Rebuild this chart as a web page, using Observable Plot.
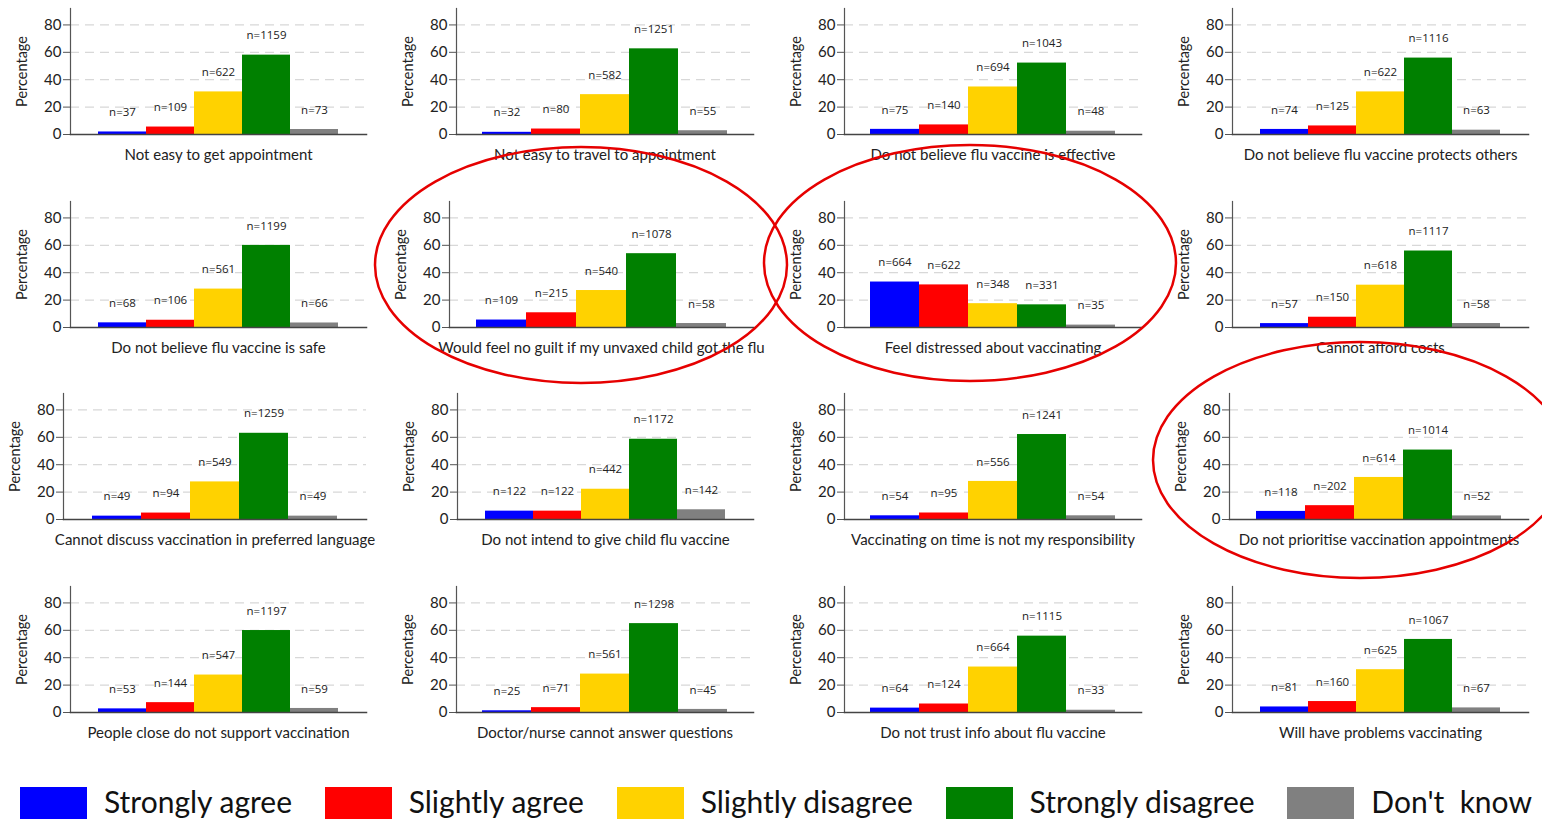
<!DOCTYPE html>
<html>
<head>
<meta charset="utf-8">
<script src="https://cdn.jsdelivr.net/npm/d3@7"></script>
<script src="https://cdn.jsdelivr.net/npm/@observablehq/plot@0.6"></script>
<style>
  html, body { margin: 0; padding: 0; background: #fff; }
  #page { position: relative; width: 1542px; height: 819px; overflow: hidden; background: #fff; }
  .panel { position: absolute; }
  .panel svg { overflow: visible; max-width: none !important; }
  #legend { position: absolute; left: 20px; top: 784px; width: 1512px; display: flex; justify-content: space-between; font-family: Lato, "Open Sans", sans-serif; font-size: 30px; color: #111; }
  #legend .item { display: flex; align-items: flex-start; }
  #legend .sw { width: 67px; height: 35px; margin-top: 3px; }
  #legend .lab { margin-left: 17px; white-space: pre; line-height: 34px; }
  #overlay { position: absolute; left: 0; top: 0; pointer-events: none; }
</style>
</head>
<body>
<div id="page"></div>
<script>
// ---- data ----
const categories = ["Strongly agree", "Slightly agree", "Slightly disagree", "Strongly disagree", "Don't  know"];
const colors = ["#0000ff", "#ff0000", "#ffd200", "#008000", "#808080"];
const yTicks = [0, 20, 40, 60, 80];
const titles = [
  "Not easy to get appointment",
  "Not easy to travel to appointment",
  "Do not believe flu vaccine is effective",
  "Do not believe flu vaccine protects others",
  "Do not believe flu vaccine is safe",
  "Would feel no guilt if my unvaxed child got the flu",
  "Feel distressed about vaccinating",
  "Cannot afford costs",
  "Cannot discuss vaccination in preferred language",
  "Do not intend to give child flu vaccine",
  "Vaccinating on time is not my responsibility",
  "Do not prioritise vaccination appointments",
  "People close do not support vaccination",
  "Doctor/nurse cannot answer questions",
  "Do not trust info about flu vaccine",
  "Will have problems vaccinating"
];
// counts (n) per panel, in category order
const counts = [
  [37, 109, 622, 1159, 73],
  [32, 80, 582, 1251, 55],
  [75, 140, 694, 1043, 48],
  [74, 125, 622, 1116, 63],
  [68, 106, 561, 1199, 66],
  [109, 215, 540, 1078, 58],
  [664, 622, 348, 331, 35],
  [57, 150, 618, 1117, 58],
  [49, 94, 549, 1259, 49],
  [122, 122, 442, 1172, 142],
  [54, 95, 556, 1241, 54],
  [118, 202, 614, 1014, 52],
  [53, 144, 547, 1197, 59],
  [25, 71, 561, 1298, 45],
  [64, 124, 664, 1115, 33],
  [81, 160, 625, 1067, 67]
];

// ---- layout (positions only) ----
const rowTop = [0, 193, 385, 578];
const colRight = [366, 753, 1141, 1528];
const axisX = [
  70, 456, 844, 1232,
  70, 449, 844, 1232,
  63, 457, 844, 1229,
  70, 456, 844, 1232
];
const ML = 70, MR = 20, MT = 8, MB = 58, H = 192;

const page = document.getElementById("page");
const fontMain = "Lato, 'Open Sans', sans-serif";

titles.forEach((title, p) => {
  const r = Math.floor(p / 4), c = p % 4;
  const total = d3.sum(counts[p]);
  const data = categories.map((cat, i) => ({cat, n: counts[p][i], pct: counts[p][i] / total * 100}));
  const W = colRight[c] - axisX[p] + ML + MR;
  const chart = Plot.plot({
    width: W, height: H,
    marginLeft: ML, marginRight: MR, marginTop: MT, marginBottom: MB,
    style: {fontFamily: fontMain, background: "transparent", overflow: "visible", color: "#333", maxWidth: "none"},
    x: {domain: categories, paddingInner: 0, paddingOuter: 0.53, axis: null},
    y: {domain: [0, 92], label: null},
    color: {domain: categories, range: colors},
    marks: [
      Plot.gridY(yTicks.slice(1), {stroke: "#d8d8d8", strokeOpacity: 1, strokeWidth: 1.3, strokeDasharray: "9,6"}),
      Plot.barY(data, {x: "cat", y: "pct", fill: "cat"}),
      Plot.axisY(yTicks, {tickSize: 7, tickPadding: 2, fontSize: 15, label: null, stroke: "#555", fill: "#222"}),
      Plot.frame({anchor: "left", stroke: "#555", strokeWidth: 1.2}),
      Plot.frame({anchor: "bottom", stroke: "#444", strokeWidth: 1.5}),
      Plot.text(data, {x: "cat", y: "pct", text: d => "n=" + d.n, dy: -19.5, fontSize: 11.5, fontFamily: "'Open Sans', sans-serif", fill: "#222"}),
      Plot.text([title], {text: d => d, frameAnchor: "bottom", textAnchor: "middle", lineAnchor: "middle", dy: 21, fontSize: 15, fill: "#222"}),
      Plot.text(["Percentage"], {text: d => d, frameAnchor: "left", textAnchor: "middle", lineAnchor: "middle", rotate: -90, dx: -48, fontSize: 14.5, fill: "#222"})
    ]
  });
  const div = document.createElement("div");
  div.className = "panel";
  div.style.left = (axisX[p] - ML) + "px";
  div.style.top = rowTop[r] + "px";
  div.style.width = W + "px";
  div.appendChild(chart);
  page.appendChild(div);
});

// ---- legend ----
const legend = document.createElement("div");
legend.id = "legend";
categories.forEach((cat, i) => {
  const item = document.createElement("div");
  item.className = "item";
  const sw = document.createElement("div");
  sw.className = "sw";
  sw.style.background = colors[i];
  const lab = document.createElement("div");
  lab.className = "lab";
  lab.textContent = cat;
  item.appendChild(sw); item.appendChild(lab);
  legend.appendChild(item);
});
page.appendChild(legend);

// ---- red annotation ellipses ----
const highlights = [
  {cx: 581, cy: 265, rx: 206, ry: 118},
  {cx: 970, cy: 263, rx: 206, ry: 118},
  {cx: 1360, cy: 460, rx: 207, ry: 118}
];
const ov = d3.select(page).append("svg").attr("id", "overlay").attr("width", 1542).attr("height", 819);
ov.selectAll("ellipse").data(highlights).join("ellipse")
  .attr("cx", d => d.cx).attr("cy", d => d.cy).attr("rx", d => d.rx).attr("ry", d => d.ry)
  .attr("fill", "none").attr("stroke", "#e60000").attr("stroke-width", 2.5);
</script>
</body>
</html>
